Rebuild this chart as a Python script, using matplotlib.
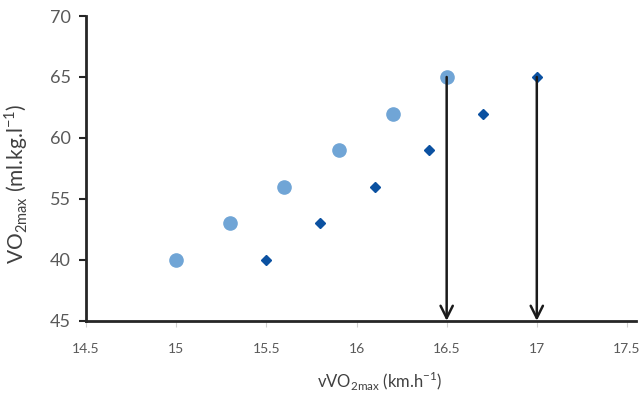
import matplotlib.pyplot as plt
import numpy as np

plt.rcParams['font.family'] = ['Lato', 'DejaVu Sans']
plt.rcParams['mathtext.fontset'] = 'custom'
plt.rcParams['mathtext.rm'] = 'Lato'

# Daten (Achse intern 35..60, Beschriftung wie im Original)
x_kreis = [15.0, 15.3, 15.6, 15.9, 16.2, 16.5]
y_kreis = [40, 43, 46, 49, 52, 55]
x_raute = [15.5, 15.8, 16.1, 16.4, 16.7, 17.0]
y_raute = [40, 43, 46, 49, 52, 55]
x_ticks = [14.5, 15, 15.5, 16, 16.5, 17, 17.5]
x_ticklabels = ["14.5", "15", "15.5", "16", "16.5", "17", "17.5"]
y_ticks = [35, 40, 45, 50, 55, 60]
y_ticklabels = ["45", "40", "55", "60", "65", "70"]
pfeile_x = [16.5, 17.0]

fig = plt.figure(figsize=(6.43, 4.01), dpi=100)
ax = fig.add_axes([0.134, 0.2, 0.841, 0.76])

ax.plot(x_kreis, y_kreis, "o", color="#70a5d6", markersize=9.5, linestyle="none")
ax.plot(x_raute, y_raute, "D", color="#0b51a1", markersize=5.5, linestyle="none")

#Pfeile von den obersten Punkten zur x-Achse
for xp in pfeile_x:
    ax.annotate("", xy=(xp, 35), xytext=(xp, 55),
                arrowprops=dict(arrowstyle="->", lw=1.8, color="#1a1a1a",
                                mutation_scale=22, shrinkA=0, shrinkB=0))

ax.set_xlim(14.5, 17.5)
ax.set_ylim(35, 60)
ax.set_xticks(x_ticks)
ax.set_xticklabels(x_ticklabels, fontsize=10, color="#595959")
ax.set_yticks(y_ticks)
ax.set_yticklabels(y_ticklabels, fontsize=13, color="#595959")
ax.tick_params(axis="y", length=5, width=1.5, color="#262626", pad=6)
ax.tick_params(axis="x", length=4, width=0.8, color="#d0d0d0", pad=12)

for s in ["top", "right"]:
    ax.spines[s].set_visible(False)
for s in ["left", "bottom"]:
    ax.spines[s].set_linewidth(2)
    ax.spines[s].set_color("#262626")
ax.spines["bottom"].set_bounds(14.5, 17.55)

ax.set_xlabel(r"vVO$_{\mathrm{2max}}$ (km.h$^{\mathrm{-1}}$)", fontsize=12, color="#404040")
ax.xaxis.set_label_coords(0.543, -0.16)
ax.set_ylabel(r"VO$_{\mathrm{2max}}$ (ml.kg.l$^{\mathrm{-1}}$)", fontsize=15, color="#404040")
ax.yaxis.set_label_coords(-0.104, 0.45)

plt.savefig("out.png", dpi=100)
